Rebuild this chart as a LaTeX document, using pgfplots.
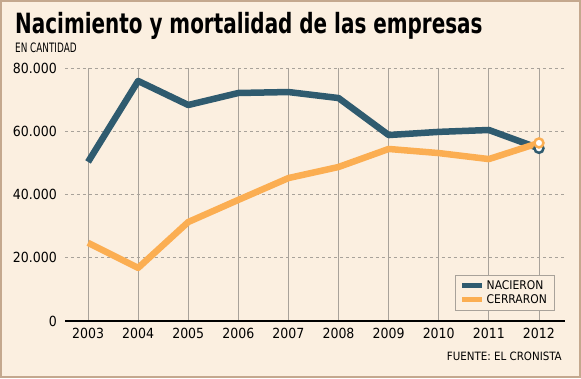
\documentclass[border=0pt]{standalone}
\usepackage{pgfplots}
\pgfplotsset{compat=1.18}
\usepackage{graphicx}
\usepackage{fontspec}
\setmainfont{DejaVu Sans Condensed}
\definecolor{bg}{HTML}{FBEFE0}
\definecolor{frame}{HTML}{C4A88E}
\definecolor{dark}{HTML}{2F5B6F}
\definecolor{orng}{HTML}{FBAE52}
\definecolor{gridc}{HTML}{A8A29A}
\begin{document}
\begin{tikzpicture}[x=1bp,y=1bp]
\useasboundingbox (0,0) rectangle (581,378);
\fill[bg] (0,0) rectangle (581,378);
\draw[frame, line width=2bp] (1,1) rectangle (580,377);
\node[anchor=base west, inner sep=0pt, font=\fontsize{28}{30}\selectfont\bfseries] at (15,345) {\scalebox{0.795}[1]{Nacimiento y mortalidad de las empresas}};
\node[anchor=base west, inner sep=0pt, font=\fontsize{13}{14}\selectfont] at (15,326) {\scalebox{0.76}[1]{EN CANTIDAD}};
\node[anchor=base east, inner sep=0pt, font=\fontsize{11.5}{13}\selectfont] at (562,18) {FUENTE: EL CRONISTA};
\begin{axis}[
  at={(65bp,57bp)}, anchor=origin,
  scale only axis, width=500bp, height=253bp,
  xmin=2002.54, xmax=2012.52, ymin=0, ymax=80000,
  axis y line*=left, axis x line*=bottom,
  y axis line style={draw=none},
  x axis line style={black, line width=1.2bp, -},
  xtick={2003,...,2012}, ytick={0,20000,40000,60000,80000},
  scaled y ticks=false,
  xticklabel style={font=\fontsize{14}{16}\selectfont, inner sep=0pt, anchor=north, yshift=-7bp},
  yticklabel style={font=\fontsize{14}{16}\selectfont, inner sep=0pt, anchor=east, xshift=-8bp},
  xticklabel={\pgfmathprintnumber[1000 sep=]{\tick}},
  /pgf/number format/.cd, 1000 sep={.}, fixed, assume math mode=true,
  /pgfplots/.cd,
  major tick length=0pt,
  ymajorgrids, xmajorgrids,
  y grid style={gridc, dashed, line width=0.8bp},
  x grid style={gridc, line width=0.8bp},
  legend style={at={(0.978,0.043)}, anchor=south east, fill=bg, draw=gridc,
    font=\fontsize{12}{14}\selectfont, row sep=0bp, inner xsep=5bp, inner ysep=3bp},
  legend cell align=left,
  legend image code/.code={\draw[#1, line width=5bp] (0bp,0bp) -- (20bp,0bp);},
]
\addplot[dark, line width=6.5bp, line join=round] coordinates {
(2003,50300) (2004,75900) (2005,68300) (2006,72100) (2007,72400)
(2008,70500) (2009,58800) (2010,59800) (2011,60400) (2012,54600)};
\addlegendentry{NACIERON}
\addplot[orng, line width=6.5bp, line join=round] coordinates {
(2003,24700) (2004,16800) (2005,31300) (2006,38300) (2007,45200)
(2008,48700) (2009,54400) (2010,53100) (2011,51200) (2012,56300)};
\addlegendentry{CERRARON}
\addplot[dark, only marks, mark=*, mark size=4.5bp, mark options={fill=white, draw=dark, line width=2.5bp}, forget plot] coordinates {(2012,54600)};
\addplot[orng, only marks, mark=*, mark size=4.5bp, mark options={fill=white, draw=orng, line width=2.5bp}, forget plot] coordinates {(2012,56300)};
\end{axis}
\end{tikzpicture}
\end{document}
